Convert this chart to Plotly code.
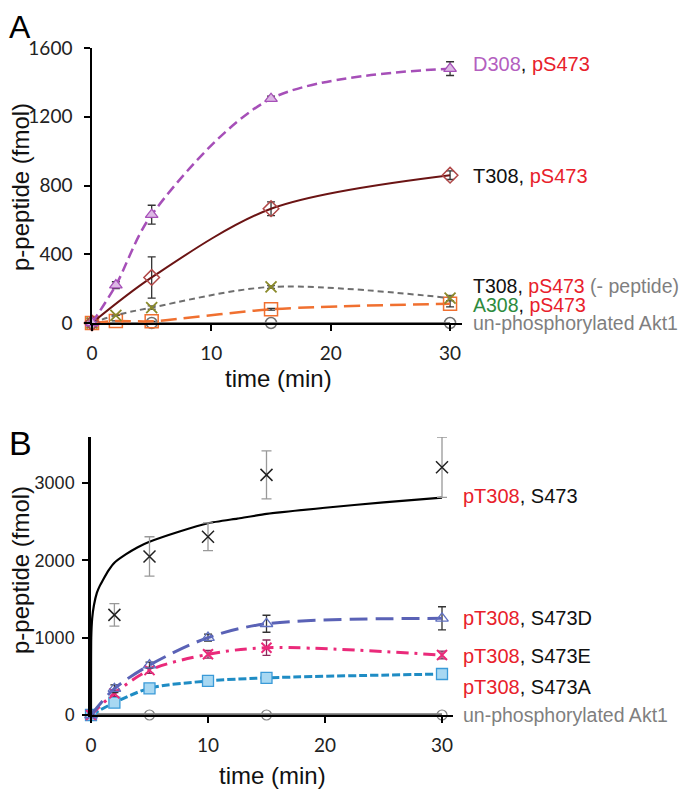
import plotly.graph_objects as go

# page body has an 8px margin: the figure is drawn at (8, 8) inside a 693x791 window
OFF = 8
FW, FH = 693 - OFF, 791 - OFF

# ---------------- Panel A data ----------------
a_t_d308 = [0, 2, 5, 15, 30]
a_d308 = [0, 220, 630, 1305, 1480]
a_d308_err = [0, 20, 55, 15, 40]

a_t_t308 = [0, 5, 15, 30]
a_t308 = [0, 265, 665, 860]
a_t308_err = [0, 120, 40, 25]

a_t_nopep = [0, 2, 5, 15, 30]
a_nopep = [0, 45, 90, 210, 145]
a_nopep_err = [0, 0, 10, 8, 15]

a_t_a308 = [0, 2, 5, 15, 30]
a_a308 = [0, 12, 10, 80, 112]
a_a308_err = [0, 0, 0, 5, 18]

a_t_unphos = [0, 5, 15, 30]
a_unphos = [0, 0, 0, 0]

# ---------------- Panel B data ----------------
b_t_wt = [2, 5, 10, 15, 30]
b_wt = [1295, 2050, 2305, 3105, 3205]
b_wt_err = [145, 255, 180, 310, 390]

b_fit_t = [0, 0.02, 0.1, 0.25, 0.5, 0.75, 1, 1.5, 2, 3, 4, 5, 7.5, 10, 12.5, 15, 20, 25, 30]
b_fit_wt = [0, 1000, 1250, 1420, 1580, 1670, 1740, 1870, 1970, 2080, 2170, 2240, 2370, 2480, 2540, 2600, 2680, 2750, 2810]

b_t = [0, 2, 5, 10, 15, 30]
b_s473d = [0, 340, 645, 1000, 1180, 1250]
b_s473d_err = [0, 50, 40, 45, 110, 150]
b_s473e = [0, 280, 580, 785, 870, 775]
b_s473e_err = [0, 40, 40, 50, 100, 50]
b_s473a = [0, 160, 345, 440, 480, 530]
b_s473a_err = [0, 30, 20, 15, 20, 15]

b_t_unphos = [0, 5, 15, 30]
b_unphos = [0, 0, 0, 0]

RED = "#e8212b"
PURPLE_T = "#b45fbf"
GREEN_T = "#2e8b3e"
GRAY_T = "#7f7f7f"


def px(x):
    return (x - OFF) / FW


def py(y):
    return 1 - (y - OFF) / FH


fig = go.Figure()


def err(arr, color, width=4, thick=1.3):
    return dict(type="data", array=arr, visible=True, color=color, width=width, thickness=thick)


# ---- Panel A traces ----
fig.add_trace(go.Scatter(x=a_t_unphos, y=a_unphos, mode="lines+markers", xaxis="x", yaxis="y",
                         line=dict(color="#808080", width=2),
                         marker=dict(symbol="circle-open", size=11, color="#707070", line=dict(width=1.5)),
                         cliponaxis=False))
fig.add_trace(go.Scatter(x=a_t_a308, y=a_a308, mode="lines+markers", xaxis="x", yaxis="y",
                         line=dict(color="#f07030", width=2.5, dash="16px,7px", shape="spline", smoothing=0.8),
                         marker=dict(symbol="square-open", size=13, color="#f07030", line=dict(width=1.5)),
                         error_y=err(a_a308_err, "#333333"), cliponaxis=False))
fig.add_trace(go.Scatter(x=a_t_nopep, y=a_nopep, mode="lines+markers", xaxis="x", yaxis="y",
                         line=dict(color="#6e6e6e", width=2, dash="6px,4px", shape="spline", smoothing=0.9),
                         marker=dict(symbol="x-thin-open", size=11, color="#8a8a2a", line=dict(width=1.8)),
                         error_y=err(a_nopep_err, "#555555"), cliponaxis=False))
fig.add_trace(go.Scatter(x=a_t_t308, y=a_t308, mode="lines+markers", xaxis="x", yaxis="y",
                         line=dict(color="#6b1414", width=2, shape="spline", smoothing=0.9),
                         marker=dict(symbol="diamond-open", size=12, color="#b04848", line=dict(width=1.5)),
                         error_y=err(a_t308_err, "#333333"), cliponaxis=False))
fig.add_trace(go.Scatter(x=a_t_d308, y=a_d308, mode="lines+markers", xaxis="x", yaxis="y",
                         line=dict(color="#a64fb8", width=2.5, dash="10px,5px", shape="spline", smoothing=0.9),
                         marker=dict(symbol="triangle-up", size=11, color="#dcb8e4",
                                     line=dict(width=1.3, color="#a64fb8")),
                         error_y=err(a_d308_err, "#333333"), cliponaxis=False))

# ---- Panel B traces ----
fig.add_trace(go.Scatter(x=b_t_unphos, y=b_unphos, mode="lines+markers", xaxis="x2", yaxis="y2",
                         line=dict(color="#707070", width=3.5),
                         marker=dict(symbol="circle-open", size=10, color="#808080", line=dict(width=1.2)),
                         cliponaxis=False))
fig.add_trace(go.Scatter(x=b_t, y=b_s473a, mode="lines+markers", xaxis="x2", yaxis="y2",
                         line=dict(color="#1f8cc4", width=3, dash="8px,3px", shape="spline", smoothing=0.9),
                         marker=dict(symbol="square", size=11, color="#a8d8f2",
                                     line=dict(width=1.3, color="#3a9ad8")),
                         error_y=err(b_s473a_err, "#3a6a9a"), cliponaxis=False))
fig.add_trace(go.Scatter(x=b_t, y=b_s473e, mode="lines+markers", xaxis="x2", yaxis="y2",
                         line=dict(color="#ea2a7a", width=3, dash="12px,6px,3px,6px", shape="spline", smoothing=0.9),
                         marker=dict(symbol="x-thin-open", size=10, color="#ea2a7a", line=dict(width=2)),
                         error_y=err(b_s473e_err, "#8a2a5a"), cliponaxis=False))
fig.add_trace(go.Scatter(x=b_t, y=b_s473d, mode="lines+markers", xaxis="x2", yaxis="y2",
                         line=dict(color="#5a62b6", width=3, dash="18px,8px", shape="spline", smoothing=0.9),
                         marker=dict(symbol="triangle-up-open", size=11, color="#6070c0", line=dict(width=1.3)),
                         error_y=err(b_s473d_err, "#333333"), cliponaxis=False))
fig.add_trace(go.Scatter(x=b_fit_t, y=b_fit_wt, mode="lines", xaxis="x2", yaxis="y2",
                         line=dict(color="#000000", width=2.2, shape="spline", smoothing=0.5),
                         cliponaxis=False))
fig.add_trace(go.Scatter(x=b_t_wt, y=b_wt, mode="markers", xaxis="x2", yaxis="y2",
                         marker=dict(symbol="x-thin-open", size=12, color="#222222", line=dict(width=1.5)),
                         error_y=err(b_wt_err, "#999999", width=5, thick=1.3), cliponaxis=False))

axis_common = dict(showgrid=False, zeroline=False, showline=True, linecolor="#000000",
                   ticks="outside", tickcolor="#000000", ticklen=6, tickwidth=1.5, automargin=False)

fig.update_layout(
    template="none",
    width=FW, height=FH,
    margin=dict(l=0, r=0, t=0, b=0, pad=0, autoexpand=False),
    paper_bgcolor="white", plot_bgcolor="rgba(0,0,0,0)",
    showlegend=False,
    xaxis=dict(domain=[px(92), px(462)], range=[0, 31], tickvals=[0, 10, 20, 30],
               anchor="y", linewidth=1.5, ticklabelstandoff=6,
               tickfont=dict(family="Lato", size=19, color="#222222"), **axis_common),
    yaxis=dict(domain=[py(323), py(48)], range=[0, 1600], tickvals=[0, 400, 800, 1200, 1600],
               anchor="x", linewidth=1.5, ticklabelstandoff=8,
               tickfont=dict(family="Lato", size=19, color="#222222"), **axis_common),
    xaxis2=dict(domain=[px(91), px(453)], range=[0, 30.94], tickvals=[0, 10, 20, 30],
                anchor="y2", linewidth=1.5, ticklabelstandoff=6,
                tickfont=dict(family="Lato", size=19, color="#222222"), **axis_common),
    yaxis2=dict(domain=[py(715), py(437)], range=[0, 3595], tickvals=[0, 1000, 2000, 3000],
                anchor="x2", linewidth=2.5, ticklabelstandoff=4,
                tickfont=dict(family="Liberation Sans", size=18, color="#222222"), **axis_common),
)


def ann(x, y, text, size=20, color="#111111", family="Liberation Sans", xanchor="left",
        yanchor="middle", angle=0, pad=1):
    fig.add_annotation(x=px(x), y=py(y), xref="paper", yref="paper", text=text, showarrow=False,
                       xanchor=xanchor, yanchor=yanchor, textangle=angle, borderpad=pad,
                       font=dict(family=family, size=size, color=color))


def c(t, col):
    return f"<span style='color:{col}'>{t}</span>"


# panel letters (as far left/up as the page allows)
ann(OFF, 27, "A", size=32, color="#000000", pad=0)
ann(OFF, 443, "B", size=34, color="#000000", pad=0)

# axis titles
ann(20, 187, "p-peptide (fmol)", size=24, color="#111111", xanchor="center", angle=-90)
ann(20, 570, "p-peptide (fmol)", size=24, color="#111111", xanchor="center", angle=-90)
ann(278, 378, "time (min)", size=24, color="#111111", xanchor="center")
ann(272, 775, "time (min)", size=24, color="#111111", xanchor="center")

# panel A labels
ann(471, 64, c("D308", PURPLE_T) + ", " + c("pS473", RED))
ann(471, 176, "T308, " + c("pS473", RED))
ann(471, 286, "T308, " + c("pS473", RED) + " " + c("(- peptide)", GRAY_T), size=19.5)
ann(471, 305, c("A308", GREEN_T) + ", " + c("pS473", RED), size=19.5)
ann(471, 323, c("un-phosphorylated Akt1", GRAY_T), size=19.5)

# panel B labels
ann(461, 496, c("pT308", RED) + ", S473")
ann(461, 618, c("pT308", RED) + ", S473D")
ann(461, 656, c("pT308", RED) + ", S473E")
ann(461, 687, c("pT308", RED) + ", S473A")
ann(461, 715, c("un-phosphorylated Akt1", GRAY_T), size=19.5)

fig.write_html("out.html")
